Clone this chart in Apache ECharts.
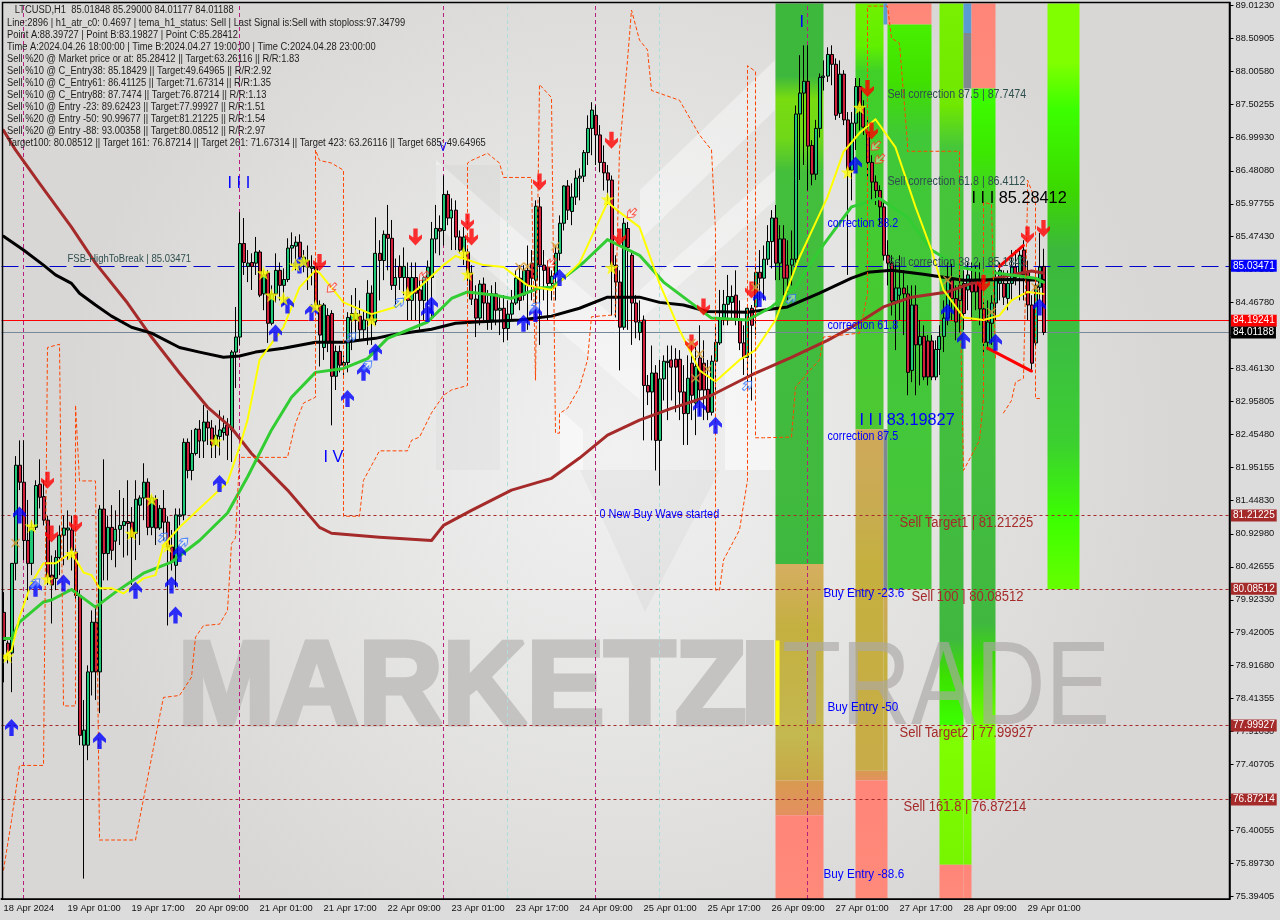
<!DOCTYPE html>
<html><head><meta charset="utf-8">
<script src="https://cdn.jsdelivr.net/npm/echarts@6/dist/echarts.min.js"></script>
<style>html,body{margin:0;padding:0;background:#dcdcdc}#c{width:1280px;height:920px}</style></head>
<body><div id="c"></div>
<script>
const FONT='"Liberation Sans",Arial,sans-serif';
const tickLabels=['18 Apr 2024','19 Apr 01:00','19 Apr 17:00','20 Apr 09:00','21 Apr 01:00','21 Apr 17:00','22 Apr 09:00','23 Apr 01:00','23 Apr 17:00','24 Apr 09:00','25 Apr 01:00','25 Apr 17:00','26 Apr 09:00','27 Apr 01:00','27 Apr 17:00','28 Apr 09:00','29 Apr 01:00'];
const priceTicks=[89.0123,88.50905,88.0058,87.50255,86.9993,86.4808,85.97755,85.4743,84.97105,84.4678,83.96455,83.4613,82.95805,82.4548,81.95155,81.4483,80.9298,80.42655,79.9233,79.42005,78.9168,78.41355,77.9103,77.40705,76.9038,76.40055,75.8973,75.39405];
const slotCount=307;
// open, close, low, high
const candles=[[79.73,79.30,78.66,80.04],[79.26,79.11,78.95,79.30],[79.11,80.48,78.51,80.48],[80.48,81.98,80.22,82.12],[81.98,81.72,81.60,82.36],[81.72,80.83,80.53,82.36],[80.83,80.48,79.92,81.45],[80.48,81.03,80.30,81.14],[81.03,81.67,80.99,81.75],[81.69,81.49,81.32,82.07],
[81.50,81.14,81.06,81.75],[81.14,80.27,80.15,81.21],[80.30,80.15,79.56,80.60],[80.25,80.57,80.07,80.68],[80.57,80.91,80.30,81.06],[80.91,81.02,80.45,81.21],[80.99,81.02,80.53,81.29],[80.99,80.68,80.37,81.21],[80.65,79.99,79.92,80.71],[79.99,77.85,77.70,80.07],
[77.70,77.93,75.66,78.39],[77.70,78.82,77.47,78.92],[78.82,79.58,78.46,79.76],[79.58,78.82,78.39,79.84],[78.82,81.31,78.19,81.37],[81.31,80.63,80.22,82.07],[80.63,81.03,80.22,81.21],[81.03,80.68,80.53,81.37],[80.82,81.00,80.42,81.29],[81.00,81.06,80.76,81.60],
[81.06,81.12,80.57,81.48],[81.12,81.09,80.60,81.75],[81.11,80.88,80.15,81.34],[80.94,81.46,80.53,81.75],[81.37,81.48,80.76,81.52],[81.48,81.72,81.14,82.01],[81.72,81.03,80.91,81.78],[81.03,81.48,80.91,81.52],[81.46,81.02,80.76,81.52],[81.02,81.32,80.99,81.37],
[81.32,81.11,80.83,81.60],[81.11,80.73,79.53,81.20],[80.73,80.50,80.37,80.99],[80.45,81.22,80.11,81.32],[81.20,81.22,81.06,81.32],[81.22,82.33,81.14,82.39],[82.33,81.90,81.78,82.39],[81.90,82.16,81.75,82.52],[82.16,82.53,82.13,82.55],[82.53,82.35,82.09,82.67],
[82.35,82.64,82.09,82.90],[82.64,82.55,82.29,82.82],[82.55,82.29,82.09,82.67],[82.29,82.44,82.09,82.59],[82.42,82.52,82.13,82.82],[82.48,82.55,82.36,82.74],[82.59,82.44,82.06,82.70],[82.52,83.71,82.03,83.74],[83.71,83.94,83.16,84.40],[83.94,85.37,83.82,85.85],
[85.37,85.08,84.89,85.76],[85.02,85.07,84.78,85.27],[85.08,85.02,84.66,85.22],[85.07,85.24,84.89,85.47],[85.24,84.58,84.55,85.27],[84.60,84.89,84.35,84.96],[84.92,84.15,83.85,84.96],[84.15,84.60,84.12,84.73],[84.60,84.96,84.47,85.22],[84.96,84.73,84.50,85.08],
[84.73,84.82,84.43,84.99],[84.82,85.30,84.78,85.45],[85.30,85.34,85.04,85.54],[85.33,85.39,84.96,85.48],[85.39,85.16,84.96,85.51],[85.08,85.16,84.93,85.27],[85.11,85.01,84.66,85.34],[84.99,85.02,84.73,85.19],[85.01,84.43,84.35,85.08],[84.43,83.97,83.49,84.50],
[83.78,84.43,83.59,84.46],[84.27,83.85,83.71,84.38],[84.30,83.34,82.59,84.35],[83.34,83.72,83.13,83.81],[83.72,83.51,83.40,83.81],[83.51,83.55,83.36,83.66],[83.55,84.24,83.40,84.32],[84.20,84.30,83.74,84.58],[84.20,84.30,83.89,84.69],[84.26,84.05,83.89,84.50],
[84.05,84.20,83.89,84.35],[84.20,84.61,83.82,84.81],[84.61,84.20,83.82,84.73],[84.17,85.22,84.12,85.77],[85.22,85.11,84.50,85.42],[85.11,85.51,84.81,85.57],[85.51,85.45,84.96,85.96],[85.45,84.73,84.66,85.73],[84.73,84.85,84.43,85.14],[85.02,84.85,84.66,85.19],
[84.85,85.02,84.58,85.31],[84.85,84.50,84.20,85.08],[84.50,84.85,84.20,85.08],[84.85,84.61,84.20,85.08],[84.66,84.50,84.05,84.81],[84.50,84.85,84.20,84.88],[84.85,85.01,84.20,85.11],[84.85,85.44,84.20,85.70],[85.44,85.60,85.22,85.96],[85.60,85.56,85.19,85.80],
[85.57,86.12,85.34,86.41],[86.12,85.76,85.65,86.18],[85.76,85.88,85.27,86.06],[85.88,85.47,85.27,86.03],[85.47,85.27,85.22,85.57],[85.25,85.47,85.04,85.62],[85.24,84.92,84.73,85.34],[84.92,84.52,84.43,85.04],[84.52,84.23,83.94,84.73],[84.23,84.75,84.12,84.81],
[84.75,84.46,84.20,84.85],[84.46,84.17,84.05,84.66],[84.20,84.60,84.05,84.73],[84.60,84.35,84.12,84.78],[84.35,84.38,83.97,84.58],[84.38,84.07,83.86,84.58],[84.07,84.29,83.89,84.50],[84.29,84.46,84.20,84.66],[84.46,84.84,84.43,84.96],[84.84,84.50,84.35,85.04],
[84.58,84.96,84.50,85.04],[84.96,84.73,84.05,85.34],[85.07,84.84,84.50,85.27],[84.81,85.94,84.20,86.03],[85.93,85.04,83.82,86.08],[85.04,84.96,84.50,85.27],[85.01,84.76,84.20,85.11],[84.76,84.87,84.50,84.96],[84.89,85.22,84.50,85.34],[85.22,85.68,85.11,85.80],
[85.68,86.25,85.57,86.26],[86.25,85.88,85.73,86.34],[85.86,86.08,85.65,86.29],[86.08,86.37,85.96,86.49],[86.37,86.40,86.03,86.52],[86.40,86.76,86.31,86.80],[86.76,87.13,86.57,87.33],[87.13,87.41,86.72,87.53],[87.33,87.03,86.57,87.48],[87.03,86.61,86.46,87.18],
[86.61,86.45,86.18,86.87],[86.45,86.34,85.96,86.57],[86.34,85.04,84.27,86.41],[85.04,84.78,84.24,85.19],[84.78,84.09,83.43,84.96],[84.09,85.68,84.05,85.76],[85.60,85.31,84.05,85.70],[85.19,84.46,83.82,85.27],[84.46,84.17,83.92,84.58],[84.01,84.17,83.89,84.50],
[84.20,83.20,82.36,84.27],[83.20,83.10,82.90,83.36],[83.10,83.39,82.36,83.81],[83.39,82.36,81.90,83.51],[82.36,83.30,81.67,83.59],[83.30,83.57,82.97,83.66],[83.55,83.57,82.67,83.81],[83.59,83.48,82.97,83.81],[83.60,83.48,82.79,83.77],[83.60,83.10,82.67,83.74],
[83.10,82.77,82.29,83.51],[82.77,83.31,82.29,83.66],[83.54,83.05,82.67,83.81],[82.93,83.49,82.44,83.81],[83.62,83.13,82.74,84.12],[83.54,83.13,82.67,83.89],[83.14,82.79,82.67,83.59],[82.79,83.57,82.74,83.66],[83.57,83.86,83.05,84.12],[83.85,84.23,83.82,84.66],
[84.23,84.44,84.12,84.66],[84.44,84.56,84.12,84.89],[84.47,84.56,84.23,84.73],[84.58,84.20,84.12,84.96],[84.20,83.85,83.74,84.50],[83.85,83.63,83.36,84.12],[83.63,84.38,83.13,84.43],[84.38,84.12,82.97,84.43],[84.40,84.93,83.97,85.04],[84.93,84.84,84.50,85.27],
[84.84,85.13,84.50,85.34],[85.13,85.40,85.04,85.65],[85.40,85.76,84.99,85.88],[85.76,85.07,84.81,85.96],[85.07,85.44,84.81,85.65],[85.44,84.84,84.50,85.65],[85.04,84.84,84.50,85.42],[85.04,85.13,84.73,85.57],[85.13,87.35,85.08,87.48],[87.35,87.67,86.34,88.25],
[87.67,87.85,86.57,88.40],[87.85,86.86,86.18,88.40],[86.87,86.43,86.26,86.95],[86.43,87.13,86.34,87.26],[87.13,87.91,86.99,87.97],[87.91,87.93,87.71,88.17],[87.93,88.26,87.84,88.37],[88.26,88.11,87.79,88.40],[88.11,87.33,87.26,88.20],[87.36,87.96,87.29,88.17],
[87.96,87.26,87.18,88.02],[87.26,86.49,84.89,87.38],[86.49,87.21,86.03,87.38],[87.21,87.77,86.80,87.90],[87.77,87.45,87.10,87.90],[87.45,87.15,87.03,87.56],[87.07,86.61,86.34,87.26],[86.61,86.31,86.03,86.72],[86.31,86.18,85.96,86.41],[86.18,85.93,85.65,86.26],
[85.93,85.19,85.11,86.03],[85.19,85.07,84.73,85.42],[85.07,84.49,84.27,85.19],[84.49,84.69,83.74,85.11],[84.58,84.69,84.20,85.19],[84.69,84.60,83.97,84.96],[84.60,83.40,83.05,84.73],[83.43,84.43,83.25,84.73],[84.43,83.82,83.05,84.73],[83.82,83.95,83.20,84.20],
[83.95,83.33,83.28,84.12],[83.88,83.33,83.20,83.97],[83.88,83.33,83.28,83.97],[83.33,83.75,83.28,83.89],[83.75,83.95,83.36,84.12],[83.95,84.23,83.71,84.50],[84.23,84.81,84.12,85.08],[84.81,84.53,84.20,85.08],[84.53,84.17,83.89,84.73],[84.50,84.73,84.01,84.96],
[84.76,84.30,84.05,84.96],[84.66,84.89,84.35,85.08],[84.81,84.63,84.20,85.08],[84.76,84.63,84.35,85.04],[84.81,84.37,84.12,85.08],[84.37,83.86,83.66,84.47],[83.86,84.17,83.74,84.50],[84.15,84.46,83.82,84.58],[84.46,84.81,84.20,84.96],[84.76,84.96,84.50,85.08],
[84.76,84.55,84.43,84.96],[84.53,84.76,84.35,84.96],[84.76,85.01,84.50,85.27],[85.01,84.85,84.73,85.27],[84.89,85.19,84.50,85.27],[85.27,84.89,84.50,85.42],[84.93,84.43,84.20,85.11],[84.43,83.54,83.43,84.58],[83.85,84.73,83.77,84.96],[84.70,85.01,84.50,85.53],[85.02,84.01,83.97,85.29]];

const slowMa=[[0,85.48],[5,85.27],[10,85.04],[13,84.89],[17,84.76],[19,84.61],[23,84.43],[27,84.26],[32,84.09],[37,84.0],[44,83.78],[49,83.71],[55,83.63],[59,83.65],[63,83.71],[70,83.77],[78,83.86],[85,83.86],[93,83.92],[97,83.97],[107,84.06],[113,84.15],[118,84.17],[129,84.20],[137,84.26],[144,84.38],[151,84.55],[159,84.55],[164,84.47],[170,84.43],[176,84.33],[186,84.32],[196,84.40],[204,84.61],[212,84.84],[216,84.93],[222,84.96],[230,84.90],[240,84.81],[252,84.82],[260,84.81]];
const trendMa=[[0,87.10],[3,86.80],[9,86.29],[17,85.62],[23,85.07],[31,84.46],[37,83.94],[44,83.39],[51,82.87],[57,82.55],[62,82.16],[71,81.60],[79,81.03],[82,80.94],[94,80.88],[107,80.83],[110,81.06],[117,81.29],[127,81.60],[137,81.78],[144,82.09],[151,82.44],[159,82.67],[167,82.85],[177,83.05],[187,83.36],[197,83.63],[206,83.89],[212,84.09],[220,84.40],[227,84.55],[236,84.63],[242,84.76],[252,84.89],[257,84.95],[260,84.92]];
const midMa=[[0,79.33],[2,79.33],[4,79.58],[10,79.89],[12,79.92],[17,80.08],[19,79.99],[23,79.81],[28,80.04],[35,80.33],[42,80.50],[49,80.83],[56,81.25],[61,81.80],[67,82.52],[72,83.02],[78,83.40],[85,83.46],[91,83.61],[96,83.92],[106,84.17],[112,84.53],[116,84.63],[123,84.58],[127,84.53],[134,84.69],[137,84.70],[145,85.08],[151,85.43],[159,85.19],[165,84.78],[170,84.55],[177,84.23],[186,84.20],[192,84.40],[198,84.70],[204,85.27],[212,85.93],[219,86.06],[226,85.77],[232,85.27],[239,85.01],[243,84.96],[258,84.84],[260,84.78]];
const temaLine=[[0,79.03],[2,79.15],[4,79.66],[7,80.18],[10,80.48],[13,80.48],[17,80.65],[20,80.34],[22,80.30],[24,80.10],[27,80.10],[30,80.02],[35,80.25],[38,80.30],[40,80.76],[44,81.03],[49,81.32],[56,81.72],[59,82.26],[61,82.67],[64,83.59],[70,84.09],[74,84.70],[78,84.96],[79,84.92],[85,84.47],[92,84.29],[98,84.40],[104,84.70],[110,85.04],[113,85.18],[120,85.04],[125,85.01],[131,84.73],[137,84.66],[144,85.07],[151,86.0],[154,85.85],[159,85.62],[164,84.76],[169,84.05],[174,83.43],[178,83.26],[184,83.59],[188,83.74],[193,84.20],[199,85.16],[206,86.08],[210,86.77],[214,87.06],[218,87.27],[223,86.84],[228,85.93],[232,85.27],[235,84.66],[240,84.24],[245,84.20],[249,84.27],[252,84.50],[256,84.63],[260,84.60]];
const stopLineA=[[0,75.79],[2,76.55],[4,77.39],[10,77.39],[11,83.78],[14,83.83],[15,78.3],[18,78.3],[18,82.9],[19,81.74],[23,81.74],[24,76.25],[33,76.25],[39,78.13],[40,78.43],[44,78.46],[47,78.74],[48,79.35],[50,79.53],[54,79.55],[56,79.76],[57,80.78],[58,80.87],[59,82.1],[71,82.1],[73,82.62],[75,82.93],[78,83.02],[78,86.8],[79,86.64],[82,86.6],[85,86.49],[85,81.2],[89,81.2],[90,81.75],[94,82.2],[101,82.2],[102,82.36],[104,82.41],[107,82.78],[110,83.05],[112,83.13],[116,83.2],[116,86.6],[117,86.64],[121,86.75],[124,86.6],[125,86.38],[132,86.38],[133,83.28],[134,87.8],[137,87.6],[138,82.47],[139,82.47],[139,82.77],[141,82.85],[144,83.17],[146,83.59],[147,84.25],[153,84.28],[154,86.8],[156,88.17],[157,88.94],[159,88.48],[161,88.33],[162,87.71],[169,87.56],[174,87.03],[177,86.80],[178,85.57],[178,80.07],[179,80.07],[180,80.53],[184,80.99],[186,81.75],[186,88.09],[188,88.0],[188,82.4],[190,82.4],[197,82.41],[198,83.17],[201,83.39],[204,83.59],[205,83.94],[214,84.0],[216,84.6],[216,89.0],[221,89.0],[222,88.51],[224,88.43],[226,86.9],[226,86.78],[239,86.78],[239,85.0],[240,81.9],[244,82.36],[245,83.0],[245,86.0],[247,85.97],[248,83.6]];
const stopLineB=[[250,82.78],[252,82.97],[253,83.25],[255,83.31],[256,86.03],[256,86.34],[258,86.03],[258,83.0],[259,83.0]];
const patternUpper=[[249,85.02],[255,85.34]];
const patternLower=[[246,83.77],[257,83.42]];

const arrowsUp=[[2,77.97],[4,81.22],[8,80.10],[15,80.18],[24,77.77],[33,80.07],[42,80.15],[43,79.69],[44,80.63],[54,81.70],[68,84.0],[71,84.43],[74,85.04],[77,84.32],[86,83.0],[90,83.40],[93,83.71],[106,84.30],[107,84.43],[130,84.15],[133,84.30],[139,84.85],[174,82.85],[178,82.59],[189,84.53],[213,86.57],[236,84.32],[240,83.89],[248,83.86],[259,84.40]];
const arrowsDown=[[11,81.75],[12,80.93],[18,81.08],[79,85.08],[103,85.47],[116,85.70],[117,85.47],[134,86.31],[152,86.95],[154,85.47],[172,83.85],[175,84.40],[187,84.66],[216,87.74],[217,87.09],[245,84.76],[256,85.50],[260,85.60]];
const stars=[[1,79.06],[7,81.05],[11,80.24],[17,80.63],[32,80.94],[37,81.46],[41,80.74],[53,82.35],[65,84.92],[67,84.58],[70,84.53],[73,85.04],[75,85.10],[78,84.41],[88,84.27],[92,84.20],[101,84.61],[115,85.22],[116,84.90],[151,86.05],[152,85.0],[211,86.46],[214,87.45]];
const crosses=[[3,80.79],[129,85.01],[131,85.02],[138,85.33],[172,83.85],[174,83.68],[176,83.45],[173,83.31],[188,84.70],[236,84.81],[247,84.32],[258,84.70]];
const hollowUp=[[8,80.18],[40,80.88],[45,80.80],[87,83.94],[91,83.51],[99,84.47],[133,84.40],[186,83.20],[197,84.53]];
const hollowDown=[[82,84.69],[105,84.87],[137,85.07],[157,85.83],[218,86.86],[219,86.66]];

// slot from, slot to, price high, price low, kind
const zones=[
[193,205,89.04,80.47,'g1'],[193,205,80.47,77.16,'tan1'],[193,205,77.16,76.63,'org'],[193,205,76.63,75.35,'sal'],
[213,220,89.04,82.53,'g2'],[213,220,82.53,77.31,'tan2'],[213,221,77.31,77.16,'org'],[213,221,77.16,75.35,'sal'],
[220,221,89.04,88.72,'blue'],[220,221,82.53,80.085,'gray'],[220,221,80.085,77.31,'tan2'],
[221,232,89.04,88.72,'sal'],[221,232,88.72,80.085,'g3'],
[234,240,89.04,77.999,'g4'],[234,240,77.999,75.87,'lime'],[234,240,75.87,75.35,'sal'],
[240,242,89.04,88.59,'blue'],[240,242,88.59,87.74,'gray'],[240,242,76.872,75.87,'lime'],[240,242,75.87,75.35,'sal'],
[242,248,89.04,87.74,'sal'],[242,248,87.74,77.999,'g5'],[242,248,77.999,76.872,'lime'],
[261,269,89.04,80.085,'g6'],
[193,194,79.30,78.0,'yel']];
const levelPrices=[85.03471,84.19241,84.01188,81.21225,80.08512,77.99927,76.87214];
const levelKinds=['fsb','red','last','tgt','tgt','tgt','tgt'];
const magentaSlots=[5,59,110,148,201];
const paleSlots=[126,164];

// slot, price, text, kind
const annotations=[
[16,85.13,'FSB-HighToBreak | 85.03471','fsb'],
[206,85.68,'correction 38.2','corr'],[206,84.12,'correction 61.8','corr'],[206,82.42,'correction 87.5','corr'],
[221,87.64,'Sell correction 87.5 | 87.7474','sellc'],[221,86.31,'Sell correction 61.8 | 86.4112','sellc'],[221,85.08,'Sell correction 38.2 | 85.1843','sellc'],
[149,81.22,'0 New Buy Wave started','wave'],
[224,81.09,'Sell Target1 | 81.21225','sell'],[227,79.96,'Sell 100 | 80.08512','sell'],[224,77.88,'Sell Target2 | 77.99927','sell'],[225,76.75,'Sell 161.8 | 76.87214','sell'],
[205,80.02,'Buy Entry -23.6','buy'],[206,78.28,'Buy Entry -50','buy'],[205,75.73,'Buy Entry -88.6','buy'],
[214,82.67,'I I I 83.19827','bigB'],[242,86.06,'I I I 85.28412','bigK'],
[56,86.28,'I I I','bigB'],[80,82.09,'I V','bigB'],[199,88.75,'I','bigB'],[109,86.83,'V','corr']];
const infoLines=['   LTCUSD,H1  85.01848 85.29000 84.01177 84.01188','Line:2896 | h1_atr_c0: 0.4697 | tema_h1_status: Sell | Last Signal is:Sell with stoploss:97.34799','Point A:88.39727 | Point B:83.19827 | Point C:85.28412','Time A:2024.04.26 18:00:00 | Time B:2024.04.27 19:00:00 | Time C:2024.04.28 23:00:00','Sell %20 @ Market price or at: 85.28412 || Target:63.26116 || R/R:1.83','Sell %10 @ C_Entry38: 85.18429 || Target:49.64965 || R/R:2.92','Sell %10 @ C_Entry61: 86.41125 || Target:71.67314 || R/R:1.35','Sell %10 @ C_Entry88: 87.7474 || Target:76.87214 || R/R:1.13','Sell %10 @ Entry -23: 89.62423 || Target:77.99927 || R/R:1.51','Sell %20 @ Entry -50: 90.99677 || Target:81.21225 || R/R:1.54','Sell %20 @ Entry -88: 93.00358 || Target:80.08512 || R/R:2.97','Target100: 80.08512 || Target 161: 76.87214 || Target 261: 71.67314 || Target 423: 63.26116 || Target 685: 49.64965'];

const zoneStyles={
g1:[[0,'#3db83d'],[.13,'#3db83d'],[.17,'#78dc10'],[.24,'#70d818'],[.3,'#44bf3c'],[1,'#3fb83f']],
g2:[[0,'#70f000'],[.1,'#60f000'],[.16,'#40d028'],[.4,'#40cc30'],[1,'#4ec832']],
g3:[[0,'#48f000'],[.1,'#40e000'],[.2,'#40c838'],[1,'#46c63a']],
g4:[[0,'#78f000'],[.14,'#70e800'],[.2,'#46c63a'],[.88,'#40b840'],[.93,'#3ce000'],[1,'#3cff00']],
g5:[[0,'#3cff00'],[.1,'#3ce800'],[.2,'#46c63a'],[.84,'#40b840'],[.9,'#3ce000'],[1,'#70ff00']],
g6:[[0,'#80ff00'],[.1,'#80ff00'],[.18,'#3cff00'],[.32,'#3cd800'],[.42,'#3cb83c'],[.6,'#3cc040'],[.75,'#3cd030'],[.88,'#3cff00'],[1,'#66ff00']],
tan1:[[0,'#d6ae60'],[.1,'#d0ae58'],[.3,'#c4b040'],[.8,'#c4b850'],[1,'#c8a848']],
tan2:[[0,'#cfa95a'],[.25,'#c8ac50'],[.4,'#c4b03e'],[1,'#c8ac48']],
org:[[0,'#d89a50'],[1,'#e49060']],
sal:[[0,'#ff8578'],[1,'#ff8a7a']],
lime:[[0,'#7fff00'],[1,'#76f500']],
blue:[[0,'#5a9bd4'],[1,'#5a9bd4']],
gray:[[0,'#808890'],[1,'#808890']],
yel:[[0,'#ffff00'],[1,'#ffff00']]};
const levelStyles={fsb:['#0000cd',[17,7],'#0000ff'],red:['#ff0000','solid','#ff0000'],last:['#778899','solid','#000000'],tgt:['#a52a2a',[3,3],'#a52a2a']};
const textStyles={fsb:['#2f4f4f',11,.865],corr:['#0000ff',12,.89],sellc:['#2f4f4f',12,.89],wave:['#0000ff',12,.91],sell:['#a52a2a',14,.93],buy:['#0000ff',13,.9],bigB:['#0000ff',16,1.02],bigK:['#000000',16,1.02]};

const categories=[];
for(let s=0;s<slotCount;s++){const k=s/16;categories.push(Number.isInteger(k)&&k<tickLabels.length?tickLabels[k]:String(s));}
const isTick=s=>s%16===0&&s/16<tickLabels.length;

const ARROW='path://M6 0L12 7L12 11L8 8L8 17L4 17L4 8L0 11L0 7Z';
const STAR='path://M50 0L62 35L98 35L69 57L79 91L50 70L21 91L31 57L2 35L38 35Z';
const CROSS='path://M1 0L5 3.5L9 0L10 1L6.5 5L10 9L9 10L5 6.5L1 10L0 9L3.5 5L0 1Z';

const lineSeries=(data,color,width,z,dash)=>({type:'line',data,showSymbol:false,symbol:'none',silent:true,z,clip:true,lineStyle:{color,width,type:dash||'solid',cap:'round',join:'round'},connectNulls:false});
const markSeries=(data,symbol,size,color,rotate,extra)=>({type:'scatter',data,symbol,symbolSize:size,symbolRotate:rotate||0,z:7,silent:true,itemStyle:Object.assign({color},extra||{})});

const poly=(points,fill)=>({type:'polygon',z:0.5,silent:true,shape:{points},style:{fill}});
const infoGraphics=infoLines.map((t,n)=>({type:'text',x:7,y:(n?6:5)+n*12,z:20,scaleX:.935,silent:true,style:{text:t,fill:'#1c1c1c',font:'10px '+FONT}}));

const option={
animation:false,backgroundColor:'#dcdcdc',
grid:{left:1.5,top:2.5,width:1228,height:896.5,containLabel:false,outerBoundsMode:'none'},
xAxis:{type:'category',data:categories,boundaryGap:true,
 axisLine:{onZero:false,lineStyle:{color:'#000',width:2}},
 axisTick:{interval:(i)=>isTick(i),alignWithLabel:true,length:3,lineStyle:{color:'#000'}},
 axisLabel:{interval:(i)=>isTick(i),align:'left',margin:5,color:'#111',fontFamily:FONT,fontSize:9.3,hideOverlap:false},splitLine:{show:false}},
yAxis:{type:'value',position:'right',min:75.348,max:89.055,scale:true,
 axisLine:{show:true,onZero:false,lineStyle:{color:'#000',width:1.5}},
 axisTick:{show:true,length:4,customValues:priceTicks,lineStyle:{color:'#000'}},
 axisLabel:{margin:6,color:'#111',fontFamily:FONT,fontSize:9.3,customValues:priceTicks,formatter:v=>v.toFixed(5),showMinLabel:true,showMaxLabel:true},splitLine:{show:false}},
graphic:[
 {type:'rect',z:0.1,silent:true,shape:{x:2,y:3,width:1227,height:896},style:{fill:{type:'radial',x:.5,y:.5,r:.62,colorStops:[{offset:0,color:'#f1f1f1'},{offset:.45,color:'#e6e6e5'},{offset:1,color:'#d8d7d5'}]}}},
 poly([[436,160],[640,340],[640,400],[436,225]],'rgba(255,255,255,.4)'),
 poly([[640,190],[775,60],[775,110],[640,240]],'rgba(255,255,255,.4)'),
 poly([[640,290],[775,170],[775,200],[640,320]],'rgba(255,255,255,.4)'),
 poly([[725,300],[775,300],[775,470],[725,470]],'rgba(255,255,255,.5)'),
 poly([[560,470],[583,470],[583,430],[560,410]],'rgba(255,255,255,.5)'),
 poly([[436,165],[500,165],[500,470],[436,470]],'rgba(0,0,0,.025)'),
 poly([[580,470],[720,470],[645,612]],'rgba(0,0,0,.03)'),
 {type:'text',x:178,y:632,z:0.6,silent:true,scaleX:.985,style:{text:'MARKETZ',fill:'#c4c3c1',stroke:'#c4c3c1',lineWidth:5,font:'bold 118px "Liberation Sans"'}},
 {type:'rect',z:0.6,silent:true,shape:{x:746,y:640,width:28,height:85},style:{fill:'#c4c3c1'}},
 {type:'text',x:782,y:632,z:1.5,silent:true,scaleX:.82,style:{text:'TRADE',fill:'rgba(170,168,166,.65)',font:'118px "Liberation Sans"'}},
 {type:'rect',z:20,silent:true,shape:{x:2.5,y:2.5,width:1227,height:896.5},style:{fill:'none',stroke:'#000',lineWidth:1.5}},
 ...infoGraphics],
series:[
 {type:'custom',z:1,silent:true,clip:true,data:zones,encode:{x:[0,1],y:[2,3]},
  dimensions:['from','to','hi','lo','style'],
  renderItem:(p,api)=>{const z=zones[p.dataIndex];const a=api.coord([z[0],z[2]]),b=api.coord([z[1],z[3]]);
   return {type:'rect',shape:{x:a[0],y:a[1],width:b[0]-a[0],height:b[1]-a[1]},style:{fill:{type:'linear',x:0,y:0,x2:0,y2:1,colorStops:zoneStyles[z[4]].map(s=>({offset:s[0],color:s[1]}))}}};}},
 {type:'candlestick',z:3,silent:true,barWidth:3.5,data:candles,
  itemStyle:{color:'#20c878',color0:'#d0203c',borderColor:'#000',borderColor0:'#000',borderWidth:1},
  markLine:{silent:true,symbol:'none',animation:false,z:2,
   data:[
    ...magentaSlots.map(s=>({xAxis:s,lineStyle:{color:'#b8207e',type:[4,3],width:1},label:{show:false}})),
    ...paleSlots.map(s=>({xAxis:s,lineStyle:{color:'#b0dcdc',type:[4,3],width:1},label:{show:false}})),
    ...levelPrices.map((v,n)=>{const l=levelStyles[levelKinds[n]];return {yAxis:v,lineStyle:{color:l[0],type:l[1],width:1},
      label:{show:true,position:'end',distance:1.5,formatter:v.toFixed(5),color:'#fff',backgroundColor:l[2],padding:[1,2,1,2],fontFamily:FONT,fontSize:10}};})
   ]}},
 lineSeries(trendMa,'#a52a2a',3,4),
 lineSeries(slowMa,'#000',3,4),
 lineSeries(midMa,'#32cd32',3,4),
 lineSeries(temaLine,'#ffff00',2,5),
 lineSeries(stopLineA,'#ff4500',1,5,[3,3]),
 lineSeries(stopLineB,'#ff4500',1,5,[3,3]),
 lineSeries(patternUpper,'#ff0000',3,6),
 lineSeries(patternLower,'#ff0000',3,6),
 markSeries(arrowsUp,ARROW,[13,17],'#0000ff'),
 markSeries(arrowsDown,ARROW,[13,17],'#ff0000',180),
 markSeries(stars,STAR,14,'#ffff00'),
 markSeries(crosses,CROSS,9,'#daa03a'),
 markSeries(hollowUp,ARROW,[8,12],'rgba(255,255,255,.5)',-45,{borderColor:'#3070ff',borderWidth:1}),
 markSeries(hollowDown,ARROW,[8,12],'rgba(255,255,255,.5)',135,{borderColor:'#ff3020',borderWidth:1}),
 {type:'custom',z:8,silent:true,clip:false,data:annotations.map(a=>[a[0],a[1]]),encode:{x:0,y:1},
  renderItem:(p,api)=>{const a=annotations[p.dataIndex];const s=textStyles[a[3]];const c=api.coord([a[0],a[1]]);
   return {type:'text',x:c[0],y:c[1],scaleX:s[2],style:{text:a[2],fill:s[0],font:s[1]+'px '+FONT,verticalAlign:'middle',align:'left'}};}}
]};
echarts.init(document.getElementById('c'),null,{renderer:'canvas'}).setOption(option);
</script></body></html>
